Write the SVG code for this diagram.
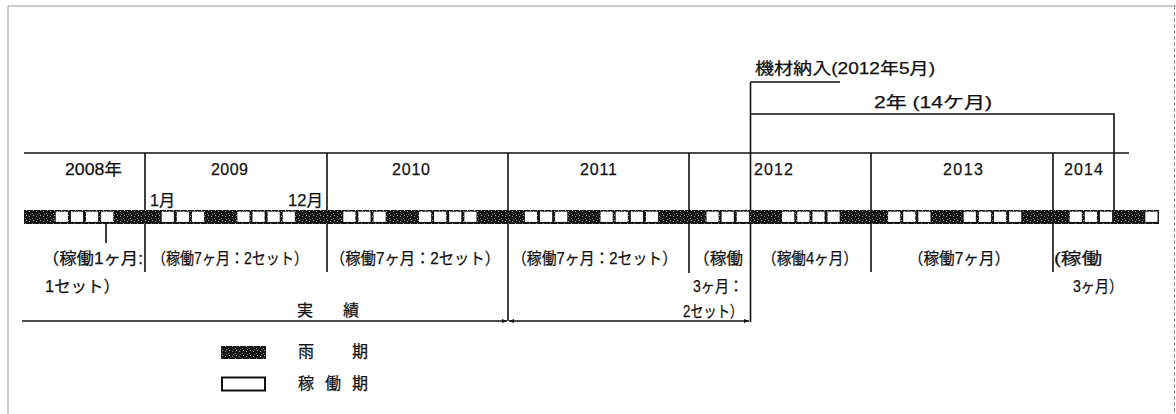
<svg xmlns="http://www.w3.org/2000/svg" width="1176" height="414" viewBox="0 0 1176 414">
<style>
  text { font-family: "Liberation Sans", "Noto Sans CJK JP", sans-serif; fill: #111; stroke: #111; stroke-width: 0.25; }
  .yr { font-size: 16px; }
  .lb { font-size: 16px; }
  .lg { font-size: 16px; }
  .ln { stroke: #111; stroke-width: 1.6; fill: none; }
  .frame { stroke: #999; stroke-width: 1; fill: none; }
  .wc { fill: #fff; }
  .dk { fill: url(#sp); }
</style>
<defs>
  <pattern id="sp" width="7" height="5" patternUnits="userSpaceOnUse">
    <rect width="7" height="5" fill="#161616"/>
    <rect x="1" y="1" width="1" height="1" fill="#9a9a9a"/>
    <rect x="4" y="3" width="1" height="1" fill="#777"/>
    <rect x="5" y="0" width="1" height="1" fill="#aaa"/>
    <rect x="2" y="4" width="1" height="1" fill="#666"/>
  </pattern>
  <marker id="ah" viewBox="0 0 10 10" refX="10" refY="5" markerWidth="7" markerHeight="5" orient="auto-start-reverse" markerUnits="userSpaceOnUse">
    <path d="M0,1 L10,5 L0,9 Z" fill="#111"/>
  </marker>
</defs>

<g id="frame">
  <path class="frame" d="M8,414 V6 H1176"/>
  <path class="frame" d="M1174.5,6 V414" stroke-dasharray="4 2"/>
</g>

<g id="header">
  <path class="ln" d="M24,153 H1129"/>
  <text class="yr" x="65" y="175" textLength="57" lengthAdjust="spacingAndGlyphs">2008年</text>
  <text class="yr" x="211" y="175" textLength="37">2009</text>
  <text class="yr" x="392" y="175" textLength="38">2010</text>
  <text class="yr" x="580" y="175" textLength="37">2011</text>
  <text class="yr" x="754" y="175" textLength="39">2012</text>
  <text class="yr" x="943" y="175" textLength="40">2013</text>
  <text class="yr" x="1064" y="175" textLength="39">2014</text>
  <text class="lb" x="150" y="206" textLength="25" lengthAdjust="spacingAndGlyphs">1月</text>
  <text class="lb" x="288" y="206" textLength="35" lengthAdjust="spacingAndGlyphs">12月</text>
</g>

<g id="delivery">
  <text class="yr" x="755" y="74" textLength="180" lengthAdjust="spacingAndGlyphs">機材納入(2012年5月)</text>
  <text class="yr" x="874" y="108" textLength="118" lengthAdjust="spacingAndGlyphs">2年 (14ケ月)</text>
</g>

<g id="connectors">
  <path class="ln" d="M750.5,82 H840"/>
  <path class="ln" d="M750.5,82 V322"/>
  <path class="ln" d="M750.5,114 H1114 V210"/>
  <path class="ln" d="M145,153 V272"/>
  <path class="ln" d="M327,153 V272"/>
  <path class="ln" d="M508,153 V321"/>
  <path class="ln" d="M689,153 V273"/>
  <path class="ln" d="M871,153 V272"/>
  <path class="ln" d="M1053,153 V272"/>
  <path class="ln" d="M106,224 V243"/>
  <path class="ln" d="M22,321 H507" marker-end="url(#ah)"/>
  <path class="ln" d="M509,321 H749" marker-start="url(#ah)" marker-end="url(#ah)"/>
</g>

<g id="strip">
  <rect class="dk" x="24" y="210" width="1135" height="14"/>
  <g id="work-cells">
    <rect class="wc" x="55.77" y="211.7" width="12.1" height="10.2"/>
    <rect class="wc" x="70.90" y="211.7" width="12.1" height="10.2"/>
    <rect class="wc" x="86.03" y="211.7" width="12.1" height="10.2"/>
    <rect class="wc" x="101.17" y="211.7" width="12.1" height="10.2"/>
    <rect class="wc" x="161.70" y="211.7" width="12.1" height="10.2"/>
    <rect class="wc" x="176.83" y="211.7" width="12.1" height="10.2"/>
    <rect class="wc" x="191.97" y="211.7" width="12.1" height="10.2"/>
    <rect class="wc" x="237.37" y="211.7" width="12.1" height="10.2"/>
    <rect class="wc" x="252.50" y="211.7" width="12.1" height="10.2"/>
    <rect class="wc" x="267.63" y="211.7" width="12.1" height="10.2"/>
    <rect class="wc" x="282.77" y="211.7" width="12.1" height="10.2"/>
    <rect class="wc" x="343.30" y="211.7" width="12.1" height="10.2"/>
    <rect class="wc" x="358.43" y="211.7" width="12.1" height="10.2"/>
    <rect class="wc" x="373.57" y="211.7" width="12.1" height="10.2"/>
    <rect class="wc" x="418.97" y="211.7" width="12.1" height="10.2"/>
    <rect class="wc" x="434.10" y="211.7" width="12.1" height="10.2"/>
    <rect class="wc" x="449.23" y="211.7" width="12.1" height="10.2"/>
    <rect class="wc" x="464.37" y="211.7" width="12.1" height="10.2"/>
    <rect class="wc" x="524.90" y="211.7" width="12.1" height="10.2"/>
    <rect class="wc" x="540.03" y="211.7" width="12.1" height="10.2"/>
    <rect class="wc" x="555.17" y="211.7" width="12.1" height="10.2"/>
    <rect class="wc" x="600.57" y="211.7" width="12.1" height="10.2"/>
    <rect class="wc" x="615.70" y="211.7" width="12.1" height="10.2"/>
    <rect class="wc" x="630.83" y="211.7" width="12.1" height="10.2"/>
    <rect class="wc" x="645.97" y="211.7" width="12.1" height="10.2"/>
    <rect class="wc" x="706.50" y="211.7" width="12.1" height="10.2"/>
    <rect class="wc" x="721.63" y="211.7" width="12.1" height="10.2"/>
    <rect class="wc" x="736.77" y="211.7" width="12.1" height="10.2"/>
    <rect class="wc" x="782.17" y="211.7" width="12.1" height="10.2"/>
    <rect class="wc" x="797.30" y="211.7" width="12.1" height="10.2"/>
    <rect class="wc" x="812.43" y="211.7" width="12.1" height="10.2"/>
    <rect class="wc" x="827.57" y="211.7" width="12.1" height="10.2"/>
    <rect class="wc" x="888.10" y="211.7" width="12.1" height="10.2"/>
    <rect class="wc" x="903.23" y="211.7" width="12.1" height="10.2"/>
    <rect class="wc" x="918.37" y="211.7" width="12.1" height="10.2"/>
    <rect class="wc" x="963.77" y="211.7" width="12.1" height="10.2"/>
    <rect class="wc" x="978.90" y="211.7" width="12.1" height="10.2"/>
    <rect class="wc" x="994.03" y="211.7" width="12.1" height="10.2"/>
    <rect class="wc" x="1009.17" y="211.7" width="12.1" height="10.2"/>
    <rect class="wc" x="1069.70" y="211.7" width="12.1" height="10.2"/>
    <rect class="wc" x="1084.83" y="211.7" width="12.1" height="10.2"/>
    <rect class="wc" x="1099.97" y="211.7" width="12.1" height="10.2"/>
    <rect class="wc" x="1145.37" y="211.7" width="12.1" height="10.2"/>
  </g>
</g>

<g id="labels">
  <text class="lb" x="42" y="264" textLength="101" lengthAdjust="spacingAndGlyphs">（稼働1ヶ月:</text>
  <text class="lb" x="45" y="292" textLength="75" lengthAdjust="spacingAndGlyphs">1セット）</text>
  <text class="lb" x="152" y="264" textLength="156" lengthAdjust="spacingAndGlyphs">（稼働7ヶ月：2セット）</text>
  <text class="lb" x="330" y="264" textLength="170" lengthAdjust="spacingAndGlyphs">（稼働7ヶ月：2セット）</text>
  <text class="lb" x="512" y="264" textLength="165" lengthAdjust="spacingAndGlyphs">（稼働7ヶ月：2セット）</text>
  <text class="lb" x="693" y="264" textLength="50" lengthAdjust="spacingAndGlyphs">（稼働</text>
  <text class="lb" x="693" y="292" textLength="50" lengthAdjust="spacingAndGlyphs">3ヶ月：</text>
  <text class="lb" x="683" y="317" textLength="60" lengthAdjust="spacingAndGlyphs">2セット）</text>
  <text class="lb" x="762" y="264" textLength="96" lengthAdjust="spacingAndGlyphs">（稼働4ヶ月）</text>
  <text class="lb" x="908" y="264" textLength="102" lengthAdjust="spacingAndGlyphs">（稼働7ヶ月）</text>
  <text class="lb" x="1054" y="264" textLength="48" lengthAdjust="spacingAndGlyphs">(稼働</text>
  <text class="lb" x="1073" y="292" textLength="50" lengthAdjust="spacingAndGlyphs">3ヶ月）</text>
  <text class="lg" x="297 343" y="316">実績</text>
</g>

<g id="legend">
  <rect class="dk" x="221" y="346" width="45" height="13"/>
  <rect x="222" y="377.5" width="43" height="13" fill="#fff" stroke="#111" stroke-width="2"/>
  <text class="lg" x="298 352" y="357">雨期</text>
  <text class="lg" x="298 325 352" y="389">稼働期</text>
</g>
</svg>
